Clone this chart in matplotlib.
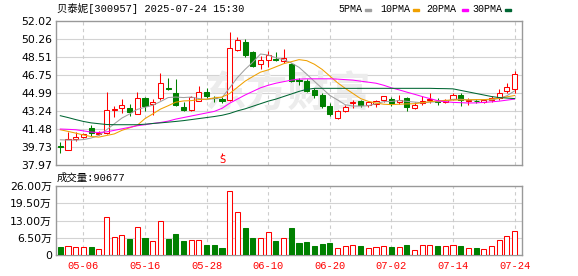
import matplotlib
matplotlib.use('Agg')
import matplotlib.pyplot as plt
from matplotlib.patches import Rectangle

# trading days shown on the chart
dates = ['04-28', '04-29', '04-30', '05-06', '05-07', '05-08', '05-09', '05-12', '05-13', '05-14',
         '05-15', '05-16', '05-19', '05-20', '05-21', '05-22', '05-23', '05-26', '05-27', '05-28',
         '05-29', '05-30', '06-03', '06-04', '06-05', '06-06', '06-09', '06-10', '06-11', '06-12',
         '06-13', '06-16', '06-17', '06-18', '06-19', '06-20', '06-23', '06-24', '06-25', '06-26',
         '06-27', '06-30', '07-01', '07-02', '07-03', '07-04', '07-07', '07-08', '07-09', '07-10',
         '07-11', '07-14', '07-15', '07-16', '07-17', '07-18', '07-21', '07-22', '07-23', '07-24']
label_dates = ['05-06', '05-16', '05-28', '06-10', '06-20', '07-02', '07-14', '07-24']

opens = [39.80, 39.40, 40.50, 40.75, 41.57, 40.98, 41.08, 43.30, 43.53, 43.53,
         42.98, 44.52, 43.88, 44.48, 45.45, 45.01, 43.66, 43.37, 44.25, 45.06,
         44.55, 44.42, 44.30, 49.18, 49.95, 49.02, 47.85, 48.25, 48.30, 48.14,
         47.85, 46.25, 46.15, 45.33, 44.80, 43.76, 42.58, 43.25, 44.00, 44.17,
         43.80, 43.96, 44.28, 44.45, 44.08, 44.52, 43.53, 44.02, 44.28, 44.22,
         44.15, 44.42, 44.84, 44.20, 44.25, 44.15, 44.28, 44.52, 45.16, 45.40]
highs = [40.20, 41.15, 41.15, 41.05, 41.90, 41.25, 45.06, 43.70, 44.42, 43.90,
         45.06, 44.65, 44.45, 46.90, 46.41, 46.38, 44.08, 44.67, 45.65, 45.50,
         44.74, 44.61, 50.95, 50.45, 50.23, 49.10, 48.59, 49.05, 49.00, 49.25,
         47.95, 46.50, 46.40, 45.50, 45.00, 44.02, 43.30, 43.86, 44.35, 44.35,
         44.20, 44.35, 44.74, 44.61, 44.77, 44.62, 44.08, 44.67, 45.00, 44.52,
         44.45, 44.95, 45.00, 44.52, 44.45, 44.40, 44.67, 45.40, 46.00, 47.12]
lows = [39.15, 39.40, 40.30, 40.60, 40.80, 40.85, 40.95, 42.70, 43.04, 42.71,
        42.95, 43.27, 42.80, 44.28, 45.26, 43.76, 43.20, 43.20, 44.18, 44.52,
        44.08, 44.02, 44.20, 49.10, 48.55, 47.55, 47.29, 47.50, 48.10, 47.95,
        46.10, 45.75, 45.05, 44.52, 43.50, 42.78, 42.50, 43.15, 43.55, 43.60,
        43.60, 43.63, 44.15, 43.76, 43.93, 43.20, 43.40, 43.86, 44.02, 43.80,
        44.00, 44.35, 43.76, 43.86, 44.00, 44.05, 44.15, 44.35, 45.00, 45.00]
closes = [39.75, 40.50, 40.75, 41.00, 41.08, 41.14, 43.37, 43.40, 43.86, 43.10,
          44.48, 43.75, 44.15, 45.99, 45.40, 43.86, 43.35, 44.61, 45.10, 44.74,
          44.50, 44.20, 49.42, 50.13, 48.70, 47.65, 48.17, 48.68, 48.25, 48.37,
          46.17, 46.20, 45.16, 44.77, 43.72, 42.90, 43.20, 43.66, 44.10, 43.78,
          44.08, 44.25, 44.67, 44.05, 44.35, 43.60, 43.86, 44.25, 44.45, 44.15,
          44.35, 44.84, 44.28, 44.27, 44.20, 44.30, 44.52, 45.00, 45.55, 46.87]

# volume in 万 (10k lots)
volume = [3.14, 3.39, 3.00, 3.00, 3.00, 2.26, 14.2, 6.80, 7.40, 6.16,
          10.4, 6.40, 5.30, 12.7, 6.16, 7.90, 5.30, 5.65, 5.65, 3.77,
          3.77, 2.76, 24.1, 16.1, 10.2, 6.50, 6.40, 8.50, 5.30, 6.40,
          10.2, 4.50, 4.90, 3.40, 4.15, 4.50, 2.60, 3.40, 3.77, 3.40,
          2.60, 3.00, 3.40, 3.00, 3.00, 3.77, 1.90, 3.77, 3.77, 3.40,
          3.40, 3.77, 3.40, 2.60, 2.60, 2.26, 3.40, 5.65, 7.20, 9.07]

ma5 = [40.43, 40.40, 40.40, 40.45, 40.60, 40.85, 41.40, 41.98, 42.55, 42.95,
       43.40, 43.60, 43.80, 44.15, 44.55, 44.60, 44.55, 44.60, 44.45, 44.35,
       44.45, 44.55, 45.50, 46.50, 47.30, 48.00, 48.80, 48.70, 48.43, 48.25,
       47.93, 47.50, 46.83, 46.13, 45.45, 44.76, 44.32, 43.85, 43.72, 43.72,
       43.75, 43.95, 44.15, 44.17, 44.26, 44.18, 44.11, 44.04, 44.10, 44.15,
       44.20, 44.38, 44.38, 44.33, 44.32, 44.35, 44.32, 44.46, 44.73, 45.20]
ma10 = [41.41, 41.25, 41.08, 40.90, 40.75, 40.69, 40.85, 41.00, 41.35, 41.60,
        41.85, 42.50, 42.95, 43.42, 43.75, 44.10, 44.22, 44.25, 44.35, 44.40,
        44.52, 44.60, 44.95, 45.55, 46.15, 46.60, 47.03, 47.25, 47.55, 47.85,
        48.05, 48.25, 48.15, 47.80, 47.30, 46.65, 46.00, 45.45, 44.95, 44.45,
        44.18, 44.02, 43.90, 43.86, 43.90, 43.93, 43.95, 44.05, 44.15, 44.22,
        44.28, 44.30, 44.32, 44.33, 44.35, 44.35, 44.40, 44.50, 44.62, 44.75]
ma20 = [41.48, 41.45, 41.41, 41.30, 41.18, 41.14, 41.20, 41.35, 41.50, 41.65,
        41.80, 41.90, 42.02, 42.12, 42.25, 42.45, 42.60, 42.75, 42.90, 43.05,
        43.20, 43.50, 44.00, 44.40, 44.80, 45.15, 45.50, 45.75, 45.95, 46.10,
        46.25, 46.35, 46.38, 46.38, 46.38, 46.38, 46.35, 46.30, 46.25, 46.15,
        46.05, 45.95, 45.75, 45.50, 45.30, 45.08, 44.87, 44.65, 44.45, 44.25,
        44.15, 44.08, 44.05, 44.02, 44.03, 44.08, 44.13, 44.20, 44.30, 44.40]
ma30 = [42.78, 42.60, 42.40, 42.22, 42.08, 42.00, 41.92, 41.90, 41.90, 41.90,
        41.90, 41.95, 42.02, 42.08, 42.15, 42.22, 42.30, 42.40, 42.50, 42.60,
        42.70, 42.82, 43.00, 43.25, 43.45, 43.70, 43.95, 44.20, 44.40, 44.65,
        44.90, 45.15, 45.35, 45.45, 45.45, 45.45, 45.45, 45.45, 45.45, 45.45,
        45.45, 45.45, 45.45, 45.45, 45.45, 45.45, 45.45, 45.45, 45.45, 45.43,
        45.42, 45.40, 45.25, 45.10, 44.95, 44.80, 44.65, 44.55, 44.50, 44.45]

price_ticks = [37.97, 39.73, 41.48, 43.24, 44.99, 46.75, 48.51, 50.26, 52.02]
price_labels = ['37.97', '39.73', '41.48', '43.24', '44.99', '46.75', '48.51', '50.26', '52.02']
vol_ticks = [0, 6.5, 13, 19.5, 26]
vol_labels = ['0', '6.50万', '13.00万', '19.50万', '26.00万']

title = '贝泰妮[300957] 2025-07-24 15:30'
vol_title = '成交量:90677'
ma_names = ['5PMA', '10PMA', '20PMA', '30PMA']
ma_colors = ['#a0a0a0', '#f0a000', '#ff00ff', '#006633']
sell_day = '05-30'

RED = '#ff0000'
GREEN = '#008000'
W, H = 578, 276
MONO = ['Liberation Mono', 'Noto Sans CJK SC']
SANS = ['DejaVu Sans', 'Noto Sans CJK SC']

fig = plt.figure(figsize=(W / 100, H / 100), dpi=100)


def px_axes(l, t, r, b):
    return fig.add_axes([l / W, 1 - b / H, (r - l) / W, (b - t) / H])


def frame(a):
    for s in a.spines.values():
        s.set_color('#999999')
        s.set_linewidth(1)
    a.tick_params(length=0, pad=3, labelsize=7.8)
    for t in a.get_yticklabels():
        t.set_family(SANS)


n = len(dates)
x = list(range(n))
label_idx = [dates.index(d) for d in label_dates]

# price panel
ax = px_axes(56, 21, 522, 165)
for i in x:
    o, h, l, c = opens[i], highs[i], lows[i], closes[i]
    up = c >= o
    col = RED if up else GREEN
    ax.vlines(i, l, h, color=col, lw=0.75, zorder=2)
    ax.add_patch(Rectangle((i - 0.33, min(o, c)), 0.66, max(abs(c - o), 0.02),
                           facecolor='white' if up else GREEN, edgecolor=col, lw=0.75, zorder=3))
for ma, col in zip([ma5, ma10, ma20, ma30], ma_colors):
    ax.plot(x, ma, color=col, lw=0.75, zorder=4)

for t in price_ticks[1:-1]:
    ax.axhline(t, color='#d3d3d3', lw=0.8, zorder=0)
for i in label_idx:
    ax.axvline(i, color='#cccccc', lw=0.8, ls=(0, (3, 3)), zorder=0)

ax.text(0.498, 0.5, '东方财富', transform=ax.transAxes, ha='center', va='center',
        fontsize=30, color='#ececec', family='Noto Sans CJK SC', weight='bold', zorder=1)

s = dates.index(sell_day)
ax.vlines(s, 38.86, 39.18, color=RED, lw=0.8)
ax.text(s, 38.42, 'S', color=RED, fontsize=7, ha='center', va='center')

ax.set_xlim(-0.56, n - 0.04)
ax.set_ylim(price_ticks[0], price_ticks[-1])
ax.set_xticks([])
ax.set_yticks(price_ticks)
ax.set_yticklabels(price_labels)
frame(ax)

# volume panel
ax2 = px_axes(56, 186, 522, 255)
up = [c >= o for o, c in zip(opens, closes)]
ax2.bar(x, volume, width=0.66,
        color=['white' if u else GREEN for u in up],
        edgecolor=[RED if u else GREEN for u in up], lw=0.75, zorder=3)
for t in vol_ticks[1:-1]:
    ax2.axhline(t, color='#d3d3d3', lw=0.8, zorder=0)
for i in label_idx:
    ax2.axvline(i, color='#cccccc', lw=0.8, ls=(0, (3, 3)), zorder=0)
ax2.set_xlim(-0.56, n - 0.04)
ax2.set_ylim(vol_ticks[0], vol_ticks[-1])
ax2.set_yticks(vol_ticks)
ax2.set_yticklabels(vol_labels)
ax2.set_xticks(label_idx)
ax2.set_xticklabels(label_dates, color=RED, fontsize=7.5, family='Liberation Mono')
frame(ax2)
ax2.tick_params(axis='x', pad=4, labelsize=7.5)

# texts
fig.text(57 / W, 1 - 8.5 / H, title, ha='left', va='center', fontsize=7.5, family=MONO)
fig.text(57 / W, 1 - 177.5 / H, vol_title, ha='left', va='center', fontsize=7.5, family=MONO)

leg_text_x = [338, 380, 426, 472]
leg_mark_x = [365, 413, 462, 505]
for name, col, tx, mx in zip(ma_names, ma_colors, leg_text_x, leg_mark_x):
    fig.text(tx / W, 1 - 8.5 / H, name, ha='left', va='center', fontsize=7.2, family=MONO)
    fig.add_artist(Rectangle((mx / W, 1 - 11 / H), 6 / W, 2.2 / H,
                             transform=fig.transFigure, color=col))

fig.savefig('out.png', dpi=100)
